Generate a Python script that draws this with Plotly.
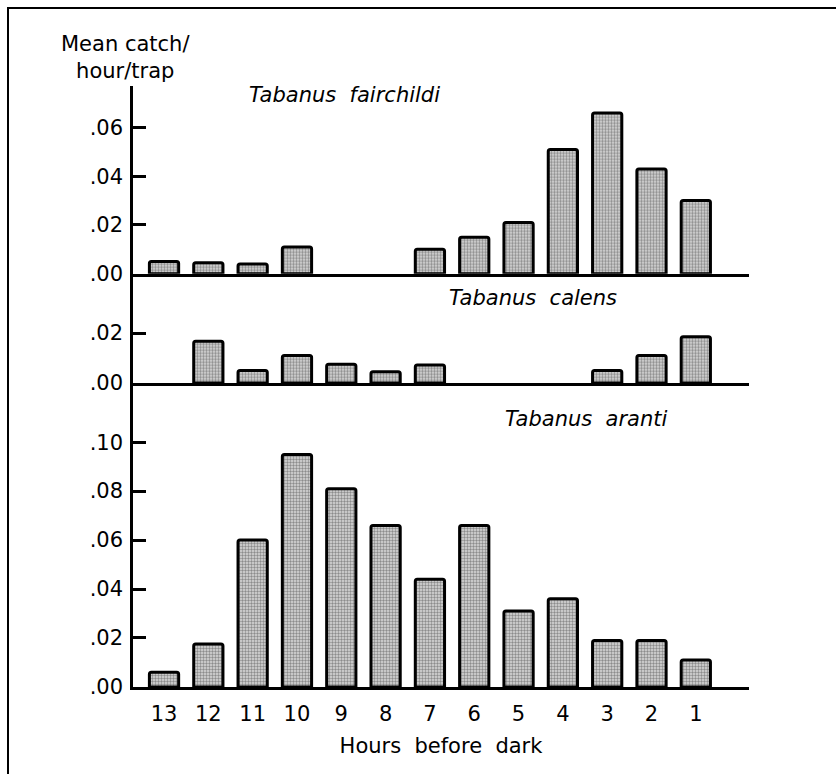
import plotly.graph_objects as go

hours = ["13", "12", "11", "10", "9", "8", "7", "6", "5", "4", "3", "2", "1"]
fairchildi = [0.005, 0.0045, 0.004, 0.011, None, None, 0.010, 0.015, 0.021, 0.051, 0.066, 0.043, 0.030]
calens = [None, 0.0167, 0.005, 0.011, 0.0075, 0.0045, 0.0072, None, None, None, 0.005, 0.011, 0.0185]
aranti = [0.006, 0.0175, 0.060, 0.095, 0.081, 0.066, 0.044, 0.066, 0.031, 0.036, 0.019, 0.019, 0.011]

species = ["Tabanus  fairchildi", "Tabanus  calens", "Tabanus  aranti"]
ticks1 = [0, 0.02, 0.04, 0.06]
ticks2 = [0, 0.02]
ticks3 = [0, 0.02, 0.04, 0.06, 0.08, 0.10]

W, H = 836, 774
FONT = "DejaVu Sans"
FS = 21

def py(px):
    return 1 - px / H

def px_x(px):
    return px / W

fig = go.Figure()

bar_style = dict(
    marker=dict(
        color="#c8c8c8",
        line=dict(color="black", width=3),
        pattern=dict(shape=".", size=3, solidity=0.5, fgcolor="#3a3a3a", bgcolor="#dcdcdc"),
        cornerradius=2,
    ),
    width=0.66,
    showlegend=False,
    hoverinfo="x+y",
)

fig.add_trace(go.Bar(x=hours, y=fairchildi, xaxis="x", yaxis="y", **bar_style))
fig.add_trace(go.Bar(x=hours, y=calens, xaxis="x2", yaxis="y2", **bar_style))
fig.add_trace(go.Bar(x=hours, y=aranti, xaxis="x3", yaxis="y3", **bar_style))

xdom = [px_x(133), px_x(749)]
xcommon = dict(
    type="category",
    domain=xdom,
    range=[-0.7, 13.2],
    showline=True,
    linecolor="black",
    linewidth=2.5,
    showgrid=False,
    zeroline=False,
    ticks="",
)
ycommon = dict(
    showline=True,
    linecolor="black",
    linewidth=2.5,
    showgrid=False,
    zeroline=False,
    ticks="inside",
    ticklen=13,
    tickwidth=2.5,
    tickcolor="black",
    tickfont=dict(family=FONT, size=FS, color="black"),
    ticklabelstandoff=3,
)

def fmt(v):
    return "." + f"{v:.2f}".split(".")[1]

fig.update_layout(
    width=W,
    height=H,
    margin=dict(l=0, r=0, t=0, b=0),
    paper_bgcolor="white",
    plot_bgcolor="rgba(0,0,0,0)",
    xaxis=dict(**xcommon, anchor="y", showticklabels=False),
    xaxis2=dict(**xcommon, anchor="y2", showticklabels=False, matches="x"),
    xaxis3=dict(**xcommon, anchor="y3", showticklabels=True, matches="x",
                ticklabelstandoff=6,
                tickfont=dict(family=FONT, size=FS, color="black"),
                title=dict(text="Hours  before  dark", font=dict(family=FONT, size=FS, color="black"), standoff=14)),
    yaxis=dict(**ycommon, anchor="x", domain=[py(278), py(87)], range=[0, 0.0772],
               tickvals=ticks1, ticktext=[fmt(v) for v in ticks1]),
    yaxis2=dict(**ycommon, anchor="x2", domain=[py(389), py(278)], range=[0, 0.0438],
                tickvals=ticks2, ticktext=[fmt(v) for v in ticks2]),
    yaxis3=dict(**ycommon, anchor="x3", domain=[py(697.7), py(389)], range=[0, 0.1242],
                tickvals=ticks3, ticktext=[fmt(v) for v in ticks3]),
    annotations=[
        dict(text="Mean catch/<br>hour/trap", xref="paper", yref="paper", x=px_x(125), y=py(58),
             xanchor="center", yanchor="middle", showarrow=False, align="center",
             font=dict(family=FONT, size=FS, color="black")),
        dict(text=species[0], xref="paper", yref="paper", x=px_x(344), y=py(97),
             xanchor="center", yanchor="middle", showarrow=False,
             font=dict(family=FONT, size=FS, color="black", style="italic")),
        dict(text=species[1], xref="paper", yref="paper", x=px_x(533), y=py(303),
             xanchor="center", yanchor="middle", showarrow=False,
             font=dict(family=FONT, size=FS, color="black", style="italic")),
        dict(text=species[2], xref="paper", yref="paper", x=px_x(586), y=py(426),
             xanchor="center", yanchor="middle", showarrow=False,
             font=dict(family=FONT, size=FS, color="black", style="italic")),
    ],
    shapes=[
        dict(type="rect", xref="paper", yref="paper", x0=px_x(8), x1=1.02, y0=-0.02, y1=py(8),
             line=dict(color="black", width=2), fillcolor="rgba(0,0,0,0)", layer="below"),
    ],
)

fig.write_html("out.html")
